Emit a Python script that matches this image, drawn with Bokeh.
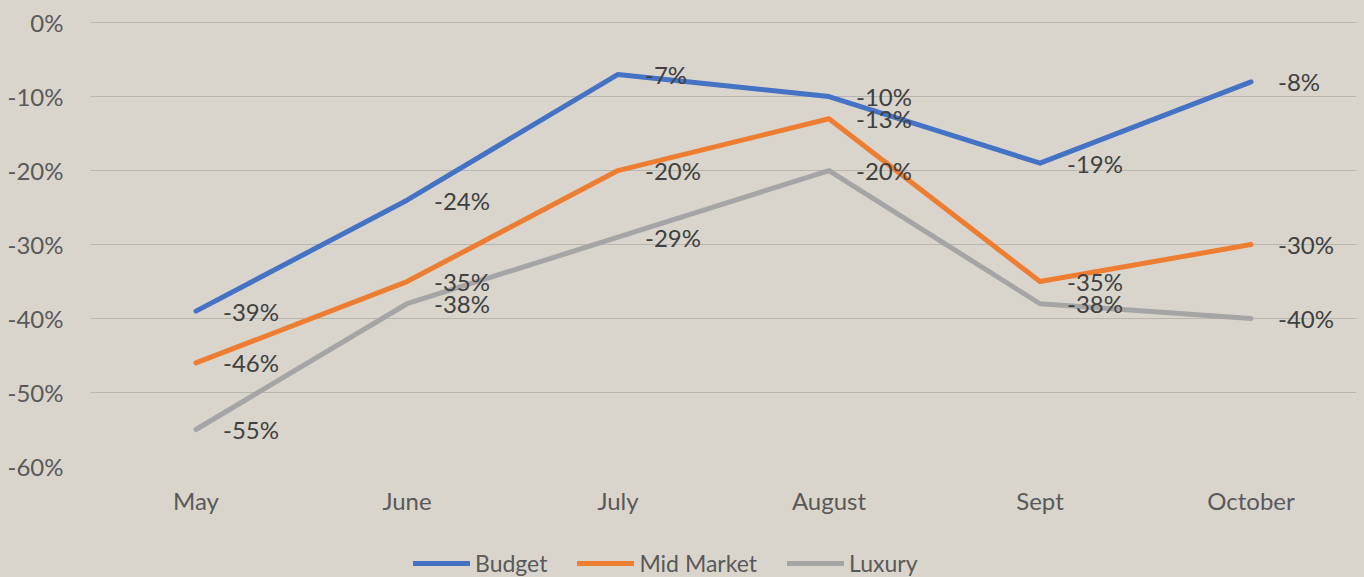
from bokeh.plotting import figure
from bokeh.layouts import column
from bokeh.models import Range1d, NumeralTickFormatter, FixedTicker, Legend, LegendItem, ColumnDataSource
from bokeh.core.properties import value
from bokeh.embed import file_html
from bokeh.resources import INLINE

months = ["May", "June", "July", "August", "Sept", "October"]
budget = [-0.39, -0.24, -0.07, -0.10, -0.19, -0.08]
mid_market = [-0.46, -0.35, -0.20, -0.13, -0.35, -0.30]
luxury = [-0.55, -0.38, -0.29, -0.20, -0.38, -0.40]
y_ticks = [-0.6, -0.5, -0.4, -0.3, -0.2, -0.1, 0.0]

series = [("Budget", budget, "#4472c4"),
          ("Mid Market", mid_market, "#ed7d31"),
          ("Luxury", luxury, "#a5a5a5")]

BG = "#d9d5cc"
FONT = "Lato"

p = figure(width=1364, height=545, x_range=months, y_range=Range1d(-0.6, 0.0015),
           output_backend="svg", toolbar_location=None,
           min_border_left=90, min_border_right=8, min_border_top=21, min_border_bottom=79,
           background_fill_alpha=0, border_fill_alpha=0, outline_line_color=None,
           styles={"background-color": BG})

p.xgrid.grid_line_color = None
p.ygrid.grid_line_color = "#b9b6af"
p.ygrid.grid_line_width = 1
p.yaxis.ticker = FixedTicker(ticks=y_ticks)
p.yaxis.formatter = NumeralTickFormatter(format="0%")
for ax in (p.xaxis[0], p.yaxis[0]):
    ax.axis_line_color = None
    ax.major_tick_line_color = None
    ax.minor_tick_line_color = None
    ax.major_label_text_font = FONT
    ax.major_label_text_font_size = "24px"
    ax.major_label_text_color = "#595959"
p.yaxis.major_label_standoff = 21
p.xaxis.major_label_standoff = 13

for name, vals, color in series:
    src = ColumnDataSource(dict(x=months, y=vals))
    p.line("x", "y", source=src, line_color=color, line_width=5, line_cap="round", line_join="round")

for name, vals, color in series:
    src = ColumnDataSource(dict(x=months, y=vals, lab=[f"{round(v*100):d}%" for v in vals]))
    p.text("x", "y", text="lab", source=src, x_offset=27, y_offset=0,
           text_font=value(FONT), text_font_size="24px", text_color="#404040",
           text_baseline="middle", text_align="left")

# legend strip (its lines lie outside its visible y range; only the legend shows)
lg = figure(width=1364, height=32, x_range=months, y_range=Range1d(5, 6),
            output_backend="svg", toolbar_location=None,
            min_border_left=90, min_border_right=8, min_border_top=0, min_border_bottom=0,
            background_fill_alpha=0, border_fill_alpha=0, outline_line_color=None,
            styles={"background-color": BG})
lg.axis.visible = False
lg.grid.visible = False
items = []
for name, vals, color in series:
    r = lg.line(x=months, y=vals, line_color=color, line_width=5, line_cap="round")
    items.append(LegendItem(label=name, renderers=[r]))
legend = Legend(items=items, orientation="horizontal", location=(323, 0),
                background_fill_alpha=0, border_line_color=None,
                label_text_font=FONT, label_text_font_size="23px", label_text_color="#595959",
                glyph_width=57, glyph_height=20, label_standoff=5, spacing=30, padding=0, margin=0)
lg.add_layout(legend, "center")

layout = column(p, lg, spacing=0, styles={"background-color": BG})
open("out.html", "w").write(file_html(layout, INLINE))
